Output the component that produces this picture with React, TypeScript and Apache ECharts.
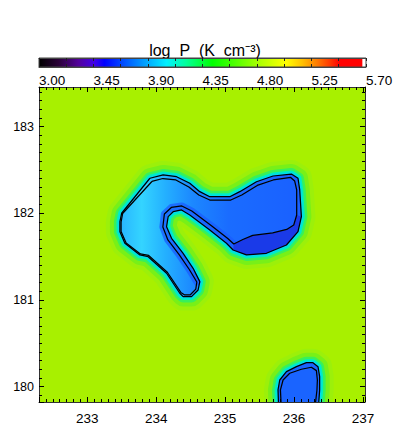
import React, { useEffect, useRef } from 'react';
import * as echarts from 'echarts';

// ---- data ----
const colorbarMin = 3.0;
const colorbarMax = 5.7;
const colorbarStep = 0.45;
const xMin = 232.3;
const xMax = 237.03;
const yMin = 179.823;
const yMax = 183.458;

// outer contour of the main low-pressure structure
const outerContour: [number, number][] = [
  [233.909, 182.405], [233.499, 182.001], [233.474, 181.904], [233.474, 181.789],
  [233.546, 181.655], [233.764, 181.52], [233.884, 181.5], [234.151, 181.309],
  [234.343, 181.078], [234.391, 181.039], [234.513, 181.039], [234.609, 181.116],
  [234.633, 181.212], [234.536, 181.366], [234.391, 181.539], [234.223, 181.712],
  [234.151, 181.846], [234.174, 181.962], [234.246, 182.019], [234.368, 182.039],
  [234.488, 181.981], [234.778, 181.808], [235.02, 181.655], [235.116, 181.577],
  [235.31, 181.52], [235.6, 181.539], [235.89, 181.635], [236.058, 181.789],
  [236.107, 181.962], [236.083, 182.27], [236.058, 182.405], [235.962, 182.454],
  [235.696, 182.431], [235.455, 182.365], [235.213, 182.25], [235.068, 182.192],
  [234.778, 182.192], [234.633, 182.25], [234.488, 182.347], [234.296, 182.423],
  [234.101, 182.443],
];

// inner contour of the main structure
const innerContour: [number, number][] = [
  [233.938, 182.368], [233.513, 181.998], [233.491, 181.9], [233.491, 181.791],
  [233.564, 181.658], [233.771, 181.531], [233.891, 181.514], [234.162, 181.32],
  [234.358, 181.087], [234.409, 181.06], [234.496, 181.06], [234.575, 181.125],
  [234.59, 181.208], [234.481, 181.352], [234.336, 181.52], [234.17, 181.693],
  [234.097, 181.843], [234.119, 181.993], [234.22, 182.068], [234.372, 182.085],
  [234.517, 182.027], [234.807, 181.854], [235.039, 181.71], [235.126, 181.647],
  [235.257, 181.698], [235.401, 181.745], [235.691, 181.774], [235.894, 181.814],
  [235.996, 181.866], [236.039, 181.981], [236.039, 182.27], [236.01, 182.373],
  [235.952, 182.414], [235.699, 182.385], [235.467, 182.322], [235.242, 182.212],
  [235.083, 182.154], [234.778, 182.154], [234.619, 182.212], [234.474, 182.304],
  [234.286, 182.385], [234.097, 182.402],
];

// deepest region (between inner contour and outer contour in the right lobe)
const deepRegion: [number, number][] = [
  [235.126, 181.647], [235.257, 181.698], [235.401, 181.745], [235.691, 181.774],
  [235.894, 181.814], [235.996, 181.866], [236.039, 181.981], [236.107, 181.962],
  [236.058, 181.789], [235.89, 181.635], [235.6, 181.539], [235.31, 181.52],
  [235.116, 181.577],
];

// small structure at the bottom edge
const blobOuter: [number, number][] = [
  [235.778, 179.731], [235.768, 179.962], [235.793, 180.077], [235.89, 180.173],
  [236.035, 180.231], [236.18, 180.277], [236.275, 180.277], [236.348, 180.231],
  [236.372, 180.115], [236.372, 179.962], [236.351, 179.731],
];
const blobInner: [number, number][] = [
  [235.817, 179.731], [235.803, 179.962], [235.841, 180.077], [235.938, 180.155],
  [236.107, 180.201], [236.252, 180.224], [236.325, 180.185], [236.339, 180.077],
  [236.333, 179.962], [236.3, 179.731],
];

// ---- styles ----
const FONT = '"Liberation Sans", Arial, Helvetica, sans-serif';
const BG = '#a8f000';
const colorTable: [number, string][] = [
  [0, '#000000'], [0.06, '#2a0038'], [0.12, '#52009a'], [0.17, '#4000e8'],
  [0.2, '#0000ff'], [0.26, '#0050ff'], [0.33, '#00a8ff'], [0.39, '#00f0ff'],
  [0.45, '#00ff9a'], [0.53, '#00ff00'], [0.6, '#50ff00'], [0.67, '#a8ff00'],
  [0.755, '#ffff00'], [0.805, '#ffc000'], [0.85, '#ff7c00'], [0.89, '#ff3800'],
  [0.92, '#ff0000'], [0.988, '#ff0000'], [0.99, '#ffffff'], [1, '#ffffff'],
];
const halo = [
  { w: 28, c: '#9cf00a' },
  { w: 20, c: '#78f018' },
  { w: 12, c: '#38f05a' },
  { w: 7, c: '#00ecc4' },
  { w: 3.5, c: '#00d8f4' },
];
const NB = '\u00a0';

const shapes = [outerContour, blobOuter];

export default function App() {
  const ref = useRef<HTMLDivElement>(null);
  useEffect(() => {
    if (!ref.current) return;
    const chart = echarts.init(ref.current, undefined, { renderer: 'svg' });

    const mainAxisCommon = {
      type: 'value' as const,
      gridIndex: 0,
      z: 10,
      splitLine: { show: false },
      axisLine: { show: true, lineStyle: { color: '#333', width: 1 } },
      axisTick: { show: true, inside: true, length: 5, lineStyle: { color: '#000' } },
      minorTick: { show: true, splitNumber: 10, length: 3, lineStyle: { color: '#000' } },
    };

    const shapeFill = (i: number) =>
      i === 0
        ? new echarts.graphic.LinearGradient(0, 0, 1, 0, [
            { offset: 0, color: '#28b4ff' },
            { offset: 0.12, color: '#34d4ff' },
            { offset: 0.25, color: '#24b0ff' },
            { offset: 0.4, color: '#1c88ff' },
            { offset: 0.6, color: '#1a6cff' },
            { offset: 1, color: '#1a60ff' },
          ])
        : '#1a64ff';

    const option: any = {
      animation: false,
      title: {
        text: `log${NB}${NB}P${NB}${NB}(K${NB}${NB}cm⁻³)`,
        left: 200,
        top: 37,
        textAlign: 'center',
        textStyle: { fontSize: 16, fontWeight: 'normal', fontFamily: FONT, color: '#000' },
      },
      grid: [
        { left: 39, top: 87, width: 326, height: 315, show: true, backgroundColor: BG, borderWidth: 0 },
        { left: 39, top: 58, width: 327, height: 9, show: false },
      ],
      xAxis: [
        {
          ...mainAxisCommon,
          position: 'bottom',
          min: xMin,
          max: xMax,
          axisLabel: {
            show: true, margin: 9, fontSize: 13.5, color: '#000', fontFamily: FONT,
            showMinLabel: false, showMaxLabel: false,
          },
        },
        {
          ...mainAxisCommon,
          position: 'top',
          min: xMin,
          max: xMax,
          axisLabel: { show: false },
        },
        {
          type: 'value',
          gridIndex: 1,
          position: 'bottom',
          min: colorbarMin,
          max: colorbarMax,
          interval: colorbarStep,
          z: 10,
          splitLine: { show: false },
          axisLine: { show: true, lineStyle: { color: '#444', width: 1 } },
          axisTick: { show: true, inside: true, length: 3, lineStyle: { color: '#222' } },
          minorTick: { show: true, splitNumber: 2, length: 3, lineStyle: { color: '#222' } },
          axisLabel: {
            show: true, margin: 6, fontSize: 13.5, color: '#000', fontFamily: FONT,
            align: 'left',
            formatter: (v: number) => v.toFixed(2),
          },
        },
        {
          type: 'value',
          gridIndex: 1,
          position: 'top',
          min: colorbarMin,
          max: colorbarMax,
          interval: colorbarStep,
          z: 10,
          splitLine: { show: false },
          axisLine: { show: true, lineStyle: { color: '#444', width: 1 } },
          axisTick: { show: true, inside: true, length: 3, lineStyle: { color: '#222' } },
          minorTick: { show: true, splitNumber: 2, length: 3, lineStyle: { color: '#222' } },
          axisLabel: { show: false },
        },
      ],
      yAxis: [
        {
          ...mainAxisCommon,
          position: 'left',
          min: yMin,
          max: yMax,
          axisLabel: {
            show: true, margin: 5, fontSize: 12.5, color: '#000', fontFamily: FONT,
            showMinLabel: false, showMaxLabel: false,
          },
        },
        {
          ...mainAxisCommon,
          position: 'right',
          min: yMin,
          max: yMax,
          axisLabel: { show: false },
        },
        { type: 'value', gridIndex: 1, min: 0, max: 1, show: false },
      ],
      series: [
        {
          type: 'custom',
          xAxisIndex: 0,
          yAxisIndex: 0,
          clip: true,
          z: 2,
          data: shapes.map((_, i) => [i]),
          renderItem: (params: any, api: any) => {
            const i = api.value(0);
            const pts = shapes[i].map((p) => api.coord(p));
            const children: any[] = halo.map((h) => ({
              type: 'polygon',
              shape: { points: pts },
              style: { fill: 'none', stroke: h.c, lineWidth: h.w, lineJoin: 'round' },
            }));
            children.push({
              type: 'polygon',
              shape: { points: pts },
              style: { fill: shapeFill(i), stroke: 'none' },
            });
            if (i === 0) {
              // darker band along the inner (pocket) edge
              const edge = innerContour.slice(12, 24).map((p) => api.coord(p));
              children.push({
                type: 'polyline',
                shape: { points: edge },
                style: { fill: 'none', stroke: '#1a5cff', lineWidth: 7, lineJoin: 'round', lineCap: 'round', opacity: 0.75 },
              });
            }
            return { type: 'group', children };
          },
        },
        {
          type: 'custom',
          xAxisIndex: 0,
          yAxisIndex: 0,
          clip: true,
          z: 3,
          data: [[0]],
          renderItem: (params: any, api: any) => ({
            type: 'polygon',
            shape: { points: deepRegion.map((p) => api.coord(p)) },
            style: { fill: '#1a3ae8', stroke: 'none' },
          }),
        },
        ...[outerContour, innerContour].map((c) => ({
          type: 'line',
          xAxisIndex: 0,
          yAxisIndex: 0,
          z: 4,
          clip: true,
          symbol: 'none',
          silent: true,
          data: [...c, c[0]],
          lineStyle: { color: '#000', width: 1.25 },
        })),
        ...[blobOuter, blobInner].map((c) => ({
          type: 'line',
          xAxisIndex: 0,
          yAxisIndex: 0,
          z: 4,
          clip: true,
          symbol: 'none',
          silent: true,
          data: c,
          lineStyle: { color: '#000', width: 1.25 },
        })),
        {
          type: 'custom',
          xAxisIndex: 2,
          yAxisIndex: 2,
          z: 2,
          data: [[colorbarMin, colorbarMax]],
          renderItem: (params: any, api: any) => {
            const p0 = api.coord([api.value(0), 1]);
            const p1 = api.coord([api.value(1), 0]);
            return {
              type: 'rect',
              shape: { x: p0[0], y: p0[1], width: p1[0] - p0[0], height: p1[1] - p0[1] },
              style: {
                fill: new echarts.graphic.LinearGradient(
                  0, 0, 1, 0,
                  colorTable.map(([o, c]) => ({ offset: o, color: c }))
                ),
                stroke: '#444',
                lineWidth: 1,
              },
            };
          },
        },
      ],
    };
    chart.setOption(option);
    return () => chart.dispose();
  }, []);
  return (
    <div
      ref={ref}
      style={{ position: 'fixed', left: 0, top: 0, width: 415, height: 442, background: '#fff' }}
    />
  );
}
